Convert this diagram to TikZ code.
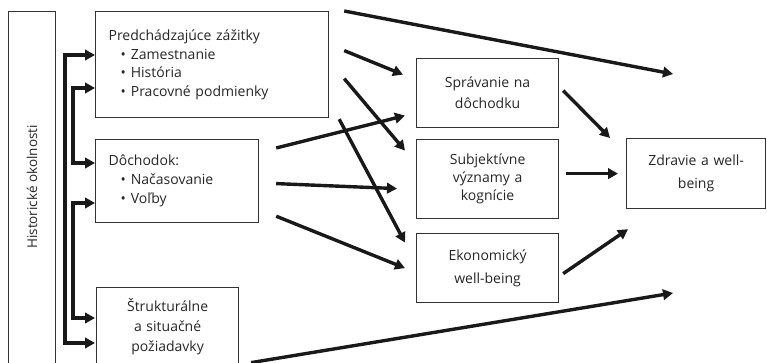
\documentclass[tikz,border=0pt]{standalone}
\usepackage{fontspec}
\setmainfont{Open Sans}
\usetikzlibrary{arrows.meta,calc}
\begin{document}
\begin{tikzpicture}[x=1pt,y=-1pt,
  box/.style={draw=black!80,line width=1.2pt,rectangle,inner sep=0pt,anchor=north west,text=black!85},
  lbox/.style={box,align=left,inner xsep=13pt},
  cbox/.style={box,align=center},
  arr/.style={line width=3.4pt,draw=black!90,-{Triangle[length=10pt,width=10.5pt]}},
  brk/.style={line width=3.4pt,draw=black!90,{Triangle[length=10pt,width=10.5pt]}-{Triangle[length=10pt,width=10.5pt]}},
  fs/.style={font=\fontsize{14}{#1}\selectfont}]
\useasboundingbox (0,0) rectangle (767,363);
\clip (0,0) rectangle (767,363);
\newcommand\bitem[1]{\hspace*{12pt}\textbullet\hspace{5pt}#1}
% left box
\node[box,minimum width=47pt,minimum height=360pt] (ho) at (8,11) {};
\node[rotate=90,font=\fontsize{13.5}{16}\selectfont,text=black!85] (hot) at (32,187) {Historické okolnosti};
% left column boxes
\node[lbox,fs=18.5,minimum width=233pt,minimum height=106pt,text width=207pt] (b1) at (95,11)
  {Predchádzajúce zážitky\\ \bitem{Zamestnanie}\\ \bitem{História}\\ \bitem{Pracovné podmienky}};
\node[lbox,fs=19,minimum width=163pt,minimum height=83pt,text width=137pt] (b2) at (95,139)
  {Dôchodok:\\ \bitem{Načasovanie}\\ \bitem{Voľby}};
\node[cbox,fs=20,minimum width=142pt,minimum height=78pt,text width=142pt] (b3) at (96,287)
  {Štrukturálne\\ a situačné\\ požiadavky};
% middle column
\node[cbox,fs=21,minimum width=142pt,minimum height=69pt,text width=142pt] (sp) at (416,58)
  {Správanie na\\ dôchodku};
\node[cbox,fs=18,minimum width=142pt,minimum height=79pt,text width=142pt] (sb) at (416,139)
  {Subjektívne\\ významy a\\ kognície};
\node[cbox,fs=23,minimum width=142pt,minimum height=69pt,text width=142pt] (ek) at (416,233)
  {Ekonomický\\ well-being};
% right
\node[cbox,fs=23,minimum width=139pt,minimum height=70pt,text width=139pt] (zd) at (626,138)
  {Zdravie a well-\\ being};
% free ends
\coordinate (e1) at (673,74);
\coordinate (e2) at (673,293);
% bracket arrows
\draw[brk] ($(b1.north west)+(0,44)$) -- ++(-30,0) |- ($(b3.north west)+(-1,56)$);
\draw[brk] ($(b1.north west)+(0,77)$) -- ++(-22,0) |- ($(b2.north west)+(0,24)$);
\draw[brk] ($(b2.north west)+(0,64)$) -- ++(-22,0) |- ($(b3.north west)+(-1,31)$);
% right arrows
\draw[arr] ($(b1.north east)+(15,0)$) -- (e1);
\draw[arr] ($(b1.east)+(15,-14)$) -- ($(sp.west)+(-13,-18.5)$);
\draw[arr] ($(b1.east)+(15,14)$) -- ($(sb.west)+(-11,-28.5)$);
\draw[arr] ($(b1.south east)+(10,1)$) -- ($(ek.west)+(-11,-25.5)$);
\draw[arr] ($(b2.north east)+(17,9)$) -- ($(sp.west)+(-11,22.5)$);
\draw[arr] ($(b2.east)+(17,2.5)$) -- ($(sb.west)+(-19,9.5)$);
\draw[arr] ($(b2.south east)+(17,-7)$) -- ($(ek.west)+(-11,0)$);
\draw[arr] ($(b3.east)+(12,36)$) -- (e2);
\draw[arr] ($(sp.east)+(4,-2.5)$) -- ($(zd.north west)+(-16,0)$);
\draw[arr] ($(sb.east)+(7,-5.5)$) -- ($(zd.west)+(-8,0)$);
\draw[arr] ($(ek.east)+(4,5.5)$) -- ($(zd.south west)+(2,20)$);
\end{tikzpicture}
\end{document}
